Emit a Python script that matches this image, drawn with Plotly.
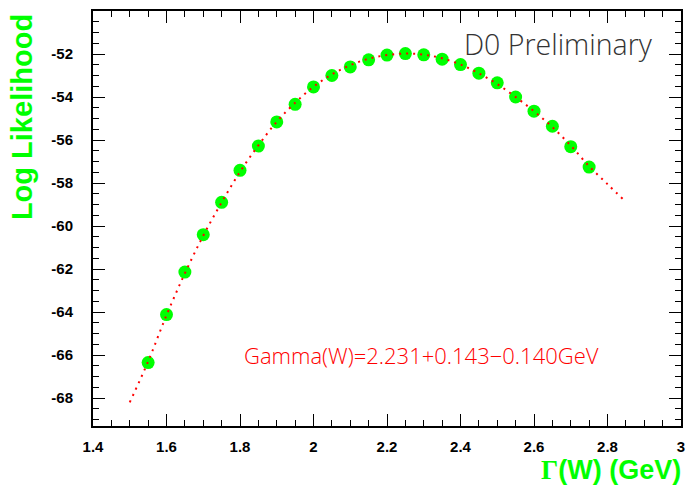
import plotly.graph_objects as go

# Measured points (Gamma(W) in GeV, log likelihood)
gamma_w = [1.55, 1.60, 1.65, 1.70, 1.75, 1.80, 1.85, 1.90, 1.95, 2.00, 2.05, 2.10, 2.15,
           2.20, 2.25, 2.30, 2.35, 2.40, 2.45, 2.50, 2.55, 2.60, 2.65, 2.70, 2.75]
log_like = [-66.35, -64.12, -62.14, -60.40, -58.90, -57.41, -56.28, -55.16, -54.34, -53.53,
            -53.00, -52.60, -52.27, -52.05, -51.98, -52.04, -52.24, -52.49, -52.89, -53.34,
            -54.00, -54.66, -55.36, -56.31, -57.26]

# Fit curve
fit_x = [1.50, 1.55, 1.60, 1.65, 1.70, 1.75, 1.80, 1.85, 1.90, 1.95, 2.00, 2.05, 2.10, 2.15,
         2.20, 2.25, 2.30, 2.35, 2.40, 2.45, 2.50, 2.55, 2.60, 2.65, 2.70, 2.75, 2.80, 2.845]
fit_y = [-68.20, -66.30, -64.15, -62.20, -60.45, -58.90, -57.48, -56.25, -55.15, -54.27,
         -53.52, -52.95, -52.52, -52.22, -52.05, -51.98, -52.03, -52.20, -52.49, -52.90,
         -53.40, -54.00, -54.66, -55.40, -56.26, -57.22, -58.05, -58.80]

x_ticks = [1.4, 1.6, 1.8, 2.0, 2.2, 2.4, 2.6, 2.8, 3.0]
x_ticklabels = ["1.4", "1.6", "1.8", "2", "2.2", "2.4", "2.6", "2.8", "3"]
y_ticks = [-52, -54, -56, -58, -60, -62, -64, -66, -68]
y_ticklabels = ["-52", "-54", "-56", "-58", "-60", "-62", "-64", "-66", "-68"]

fig = go.Figure()
fig.add_trace(go.Scatter(
    x=gamma_w, y=log_like, mode="markers",
    marker=dict(color="#00ff00", size=13, line=dict(width=0)),
    showlegend=False))
fig.add_trace(go.Scatter(
    x=fit_x, y=fit_y, mode="lines",
    line=dict(color="#ff0000", width=2, dash="2px,5px", shape="spline"),
    showlegend=False))

tickfont = dict(family="Liberation Sans, Arial, sans-serif", size=15, color="black", weight="bold")

fig.update_xaxes(
    range=[1.4, 3.0], tickvals=x_ticks, ticktext=x_ticklabels,
    ticks="inside", ticklen=12, tickwidth=1, tickcolor="black",
    minor=dict(dtick=0.05, tick0=1.4, ticks="inside", ticklen=6, tickcolor="black"),
    showline=True, linecolor="black", linewidth=2, mirror="allticks",
    showgrid=False, zeroline=False, tickfont=tickfont, ticklabelstandoff=6)
fig.update_yaxes(
    range=[-69.3, -50.0], tickvals=y_ticks, ticktext=y_ticklabels,
    ticks="inside", ticklen=12, tickwidth=1, tickcolor="black",
    minor=dict(dtick=0.5, tick0=-52, ticks="inside", ticklen=6, tickcolor="black"),
    showline=True, linecolor="black", linewidth=2, mirror="allticks",
    showgrid=False, zeroline=False, tickfont=tickfont, ticklabelstandoff=15)

fig.add_annotation(
    text="D0 Preliminary", xref="paper", yref="paper", x=0.627, y=0.92,
    xanchor="left", yanchor="middle", showarrow=False,
    font=dict(family="Open Sans, DejaVu Sans, sans-serif", size=28.5, color="#333333", weight=300))
fig.add_annotation(
    text="Gamma(W)=2.231+0.143\u22120.140GeV", xref="paper", yref="paper", x=0.2534, y=0.171,
    xanchor="left", yanchor="middle", showarrow=False,
    font=dict(family="Open Sans, DejaVu Sans, sans-serif", size=22, color="#ff0000", weight=300))
fig.add_annotation(
    text="Log Likelihood", xref="paper", yref="paper", x=-0.121, y=0.997,
    xanchor="center", yanchor="top", textangle=-90, showarrow=False,
    font=dict(family="Liberation Sans, Arial, sans-serif", size=29, color="#00ff00", weight="bold"))
fig.add_annotation(
    text="<span style=\"font-family:'Liberation Serif', serif\">\u0393</span>(W) (GeV)",
    xref="paper", yref="paper", x=1.004, y=-0.106,
    xanchor="right", yanchor="middle", showarrow=False,
    font=dict(family="Liberation Sans, Arial, sans-serif", size=27, color="#00ff00", weight="bold"))

fig.update_layout(
    width=686, height=494,
    margin=dict(l=93, r=5, t=11, b=68, autoexpand=False),
    paper_bgcolor="white", plot_bgcolor="white")

fig.write_html("out.html", config={"displayModeBar": False},
               post_script="document.body.style.margin='0';document.body.style.overflow='hidden';")
